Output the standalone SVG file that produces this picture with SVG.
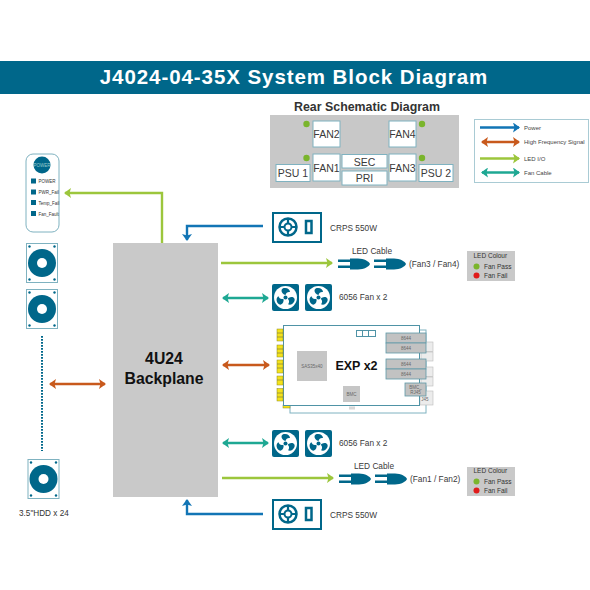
<svg xmlns="http://www.w3.org/2000/svg" xmlns:xlink="http://www.w3.org/1999/xlink" width="590" height="590" viewBox="0 0 590 590">
<style>
text{font-family:"Liberation Sans",Arial,sans-serif;fill:#333}
.box{fill:#fff;stroke:#7fb2c0;stroke-width:1}
.lb{font-size:10.500px;text-anchor:middle;fill:#3a3a3a}
.leg{font-size:6px;fill:#444}
.sm{font-size:8.300px;fill:#3a3a3a}
.ci{font-size:6.500px;fill:#333}
.conn{fill:none;stroke-width:2.400}
.t{fill:#00678a}
.chip{fill:#c6c6c6}
.ct{font-size:4.500px;text-anchor:middle;fill:#666}
.port{fill:#c2c2c2;stroke:#5f9aa8;stroke-width:.8}
.ghost{fill:#ececec;stroke:#bbb;stroke-width:.6}
.yel{fill:#f4e21a;stroke:#8d8a20;stroke-width:.5}
</style>
<defs>
<marker id="aB" markerUnits="userSpaceOnUse" markerWidth="8" markerHeight="10" refX="6" refY="5" orient="auto-start-reverse"><path d="M0 0L7 5L0 10L1.500 5Z" fill="#1275b5"/></marker>
<marker id="aO" markerUnits="userSpaceOnUse" markerWidth="8" markerHeight="10" refX="6" refY="5" orient="auto-start-reverse"><path d="M0 0L7 5L0 10L1.500 5Z" fill="#c8591c"/></marker>
<marker id="aG" markerUnits="userSpaceOnUse" markerWidth="8" markerHeight="10" refX="6" refY="5" orient="auto-start-reverse"><path d="M0 0L7 5L0 10L1.500 5Z" fill="#9cc63c"/></marker>
<marker id="aT" markerUnits="userSpaceOnUse" markerWidth="8" markerHeight="10" refX="6" refY="5" orient="auto-start-reverse"><path d="M0 0L7 5L0 10L1.500 5Z" fill="#1ea893"/></marker>
<g id="hdd">
<rect x=".5" y=".5" width="31" height="39" fill="#fff" stroke="#7fb2c0"/>
<circle cx="3.500" cy="3.500" r="1.200" class="t"/><circle cx="28.500" cy="3.500" r="1.200" class="t"/><circle cx="3.500" cy="36.500" r="1.200" class="t"/><circle cx="28.500" cy="36.500" r="1.200" class="t"/>
<circle cx="16" cy="20" r="14" class="t"/><circle cx="16" cy="20" r="5" fill="#fff"/>
</g>
<g id="fan">
<rect width="27" height="27" rx="2" class="t"/>
<circle cx="13.500" cy="13.500" r="11.500" fill="#fff"/>
<circle cx="13.500" cy="13.500" r="2" class="t"/>
<path id="bl" d="M12 10.500C8.500 8 9 4.500 12 4C15.500 3.500 18 5.500 18 8C16 7.500 14 8.500 13.500 11Z" class="t"/>
<use xlink:href="#bl" href="#bl" transform="rotate(120 13.500 13.500)"/>
<use xlink:href="#bl" href="#bl" transform="rotate(240 13.500 13.500)"/>
</g>
<g id="psu">
<rect x="1" y="1" width="48" height="29" fill="#fff" stroke="#00678a" stroke-width="2"/>
<circle cx="16" cy="15" r="8.500" fill="none" stroke="#00678a" stroke-width="2.500"/>
<circle cx="16" cy="15" r="3.500" fill="none" stroke="#00678a" stroke-width="2"/>
<path d="M8 15H12.500M19.500 15H24M16 7V11.500M16 18.500V23" stroke="#00678a" stroke-width="2.200"/>
<rect x="34" y="9" width="5.500" height="12" fill="#fff" stroke="#00678a" stroke-width="2.500"/>
</g>
<g id="plug">
<rect x="0" y="-4.500" width="14" height="2.500" class="t"/>
<rect x="0" y="1.500" width="14" height="2.500" class="t"/>
<path d="M12 -5.500H20C26 -5.500 31 -2.500 32 0C31 2.500 26 5.500 20 5.500H12Z" class="t"/>
</g>
</defs>
<rect width="590" height="590" fill="#fff"/>

<g id="title">
<rect x="0" y="61" width="590" height="33" fill="#00678a"/>
<text x="294" y="84" text-anchor="middle" font-size="20.500" font-weight="700" letter-spacing=".93" style="fill:#fff">J4024-04-35X System Block Diagram</text>
</g>

<g id="rear-schematic">
<text x="367" y="111" text-anchor="middle" font-size="12.400" font-weight="700">Rear Schematic Diagram</text>
<rect x="270" y="115" width="189" height="73" fill="#c8c8c8"/>
<circle cx="306.500" cy="124" r="3.200" fill="#7ab52c"/><circle cx="422" cy="124" r="3.200" fill="#7ab52c"/>
<circle cx="306.500" cy="158" r="3.200" fill="#7ab52c"/><circle cx="422" cy="158" r="3.200" fill="#7ab52c"/>
<g id="fan2"><rect x="313" y="121" width="27" height="26" class="box"/><text x="326.500" y="138" class="lb">FAN2</text></g>
<g id="fan4"><rect x="389" y="121" width="27" height="26" class="box"/><text x="402.500" y="138" class="lb">FAN4</text></g>
<g id="fan1"><rect x="313" y="154" width="27" height="27" class="box"/><text x="326.500" y="172" class="lb">FAN1</text></g>
<g id="fan3"><rect x="389" y="154" width="27" height="27" class="box"/><text x="402.500" y="172" class="lb">FAN3</text></g>
<g id="sec"><rect x="342" y="154.500" width="45" height="13.500" class="box"/><text x="364.500" y="165.500" class="lb">SEC</text></g>
<g id="pri"><rect x="342" y="171" width="45" height="14" class="box"/><text x="364.500" y="182" class="lb">PRI</text></g>
<g id="psu1"><rect x="276" y="164.500" width="34" height="17" class="box"/><text x="293" y="177" class="lb">PSU 1</text></g>
<g id="psu2"><rect x="419" y="164.500" width="34" height="17" class="box"/><text x="436" y="177" class="lb">PSU 2</text></g>
</g>

<g id="legend">
<rect x="474.500" y="119.500" width="114" height="63" fill="#fff" stroke="#a9cbd4"/>
<text x="524" y="130" class="leg">Power</text>
<text x="524" y="144" class="leg">High Frequency Signal</text>
<text x="524" y="160.500" class="leg">LED I/O</text>
<text x="524" y="174.500" class="leg">Fan Cable</text>
</g>

<g id="front-panel">
<rect x="26" y="154" width="33" height="78" rx="7" fill="#fff" stroke="#7fb2c0"/>
<circle cx="42" cy="165" r="8.500" class="t"/>
<text x="42" y="167" font-size="4.500" text-anchor="middle" style="fill:#9cc">POWER</text>
<rect x="31" y="178.500" width="5" height="5" class="t"/><text x="38.500" y="183" font-size="4.500">POWER</text>
<rect x="31" y="189.500" width="5" height="5" class="t"/><text x="38.500" y="194" font-size="4.500">PWR_Fail</text>
<rect x="31" y="200" width="5" height="5" class="t"/><text x="38.500" y="204.500" font-size="4.500">Temp_Fail</text>
<rect x="31" y="211" width="5" height="5" class="t"/><text x="38.500" y="215.500" font-size="4.500">Fan_Fault</text>
</g>

<g id="hdds">
<use xlink:href="#hdd" href="#hdd" x="26" y="243"/>
<use xlink:href="#hdd" href="#hdd" x="26" y="289"/>
<line x1="42" y1="336" x2="42" y2="451" stroke="#00678a" stroke-width="2" stroke-dasharray="1.800 1.200"/>
<use xlink:href="#hdd" href="#hdd" x="27.500" y="459"/>
<text x="19" y="516" font-size="8.200">3.5"HDD x 24</text>
</g>

<g id="backplane">
<rect x="113" y="243" width="105" height="254" fill="#c9c9c9"/>
<text x="164" y="364" text-anchor="middle" font-size="15.800" font-weight="700" style="fill:#111">4U24</text>
<text x="164" y="384" text-anchor="middle" font-size="15.800" font-weight="700" style="fill:#111">Backplane</text>
</g>

<g id="psu-top"><use xlink:href="#psu" href="#psu" x="272" y="212"/><text x="330" y="231" class="sm">CRPS 550W</text></g>
<g id="psu-bottom"><use xlink:href="#psu" href="#psu" x="272" y="499"/><text x="330" y="518" class="sm">CRPS 550W</text></g>

<g id="led-cable-top">
<text x="372" y="254" text-anchor="middle" class="sm">LED Cable</text>
<use xlink:href="#plug" href="#plug" x="338" y="264"/><use xlink:href="#plug" href="#plug" x="374" y="264"/>
<text x="409" y="267" class="sm">(Fan3 / Fan4)</text>
</g>
<g id="led-cable-bottom">
<text x="374" y="469" text-anchor="middle" class="sm">LED Cable</text>
<use xlink:href="#plug" href="#plug" x="339" y="479"/><use xlink:href="#plug" href="#plug" x="375" y="479"/>
<text x="410" y="482" class="sm">(Fan1 / Fan2)</text>
</g>

<g id="led-colour-top">
<rect x="467" y="251" width="48" height="30" fill="#c9c9c9"/>
<text x="473.500" y="258" class="ci">LED Colour</text>
<circle cx="476.500" cy="266.500" r="3" fill="#7ab52c"/><text x="484" y="268.500" class="ci">Fan Pass</text>
<circle cx="476.500" cy="275.500" r="3" fill="#e01b1b"/><text x="484" y="278" class="ci">Fan Fail</text>
</g>
<g id="led-colour-bottom">
<rect x="467" y="467" width="48" height="29" fill="#c9c9c9"/>
<text x="473.500" y="473" class="ci">LED Colour</text>
<circle cx="476.500" cy="481.500" r="3" fill="#7ab52c"/><text x="484" y="483.500" class="ci">Fan Pass</text>
<circle cx="476.500" cy="490.500" r="3" fill="#e01b1b"/><text x="484" y="493" class="ci">Fan Fail</text>
</g>

<g id="fans-top"><use xlink:href="#fan" href="#fan" x="272" y="284"/><use xlink:href="#fan" href="#fan" x="305" y="284"/><text x="339" y="300" class="sm">6056 Fan x 2</text></g>
<g id="fans-bottom"><use xlink:href="#fan" href="#fan" x="272" y="430"/><use xlink:href="#fan" href="#fan" x="305" y="430"/><text x="339" y="446" class="sm">6056 Fan x 2</text></g>

<g id="exp">
<rect x="290" y="330" width="136" height="83" fill="#fff" stroke="#7fb2c0"/>
<rect x="421" y="342" width="12" height="9.500" class="ghost"/><rect x="421" y="352" width="12" height="9" class="ghost"/>
<rect x="421" y="367" width="12" height="9.500" class="ghost"/><rect x="421" y="377" width="12" height="9" class="ghost"/>
<rect x="420" y="391" width="13" height="14" class="ghost"/><text x="425" y="401" class="ct">J45</text>
<rect x="283" y="405" width="7" height="3" class="yel"/>
<rect x="349" y="406.500" width="6" height="3" fill="#d8d8d8"/>
<rect x="283.500" y="325.500" width="136" height="80" fill="#fff" stroke="#4f93a6" stroke-width="1"/>
<g>
<rect x="277" y="329" width="6" height="12" class="yel"/><line x1="277" y1="333" x2="283" y2="333" stroke="#555" stroke-width=".5"/><line x1="277" y1="337" x2="283" y2="337" stroke="#555" stroke-width=".5"/>
<rect x="277" y="345" width="6" height="12" class="yel"/><line x1="277" y1="349" x2="283" y2="349" stroke="#555" stroke-width=".5"/><line x1="277" y1="353" x2="283" y2="353" stroke="#555" stroke-width=".5"/>
<rect x="277" y="360" width="6" height="13" class="yel"/><line x1="277" y1="364" x2="283" y2="364" stroke="#555" stroke-width=".5"/><line x1="277" y1="368" x2="283" y2="368" stroke="#555" stroke-width=".5"/>
<rect x="277" y="376" width="6" height="9" class="yel"/><line x1="277" y1="380" x2="283" y2="380" stroke="#555" stroke-width=".5"/>
<rect x="277" y="388.500" width="6" height="12.500" class="yel"/><line x1="277" y1="393" x2="283" y2="393" stroke="#555" stroke-width=".5"/><line x1="277" y1="397" x2="283" y2="397" stroke="#555" stroke-width=".5"/>
</g>
<rect x="356.500" y="330.500" width="6" height="6" fill="#fff" stroke="#4f93a6"/><rect x="362.500" y="330.500" width="6" height="6" fill="#fff" stroke="#4f93a6"/><rect x="368.500" y="330.500" width="7" height="6" fill="#fff" stroke="#4f93a6"/>
<rect x="297" y="351" width="30" height="30" class="chip"/><text x="312" y="367.500" class="ct">SAS35x40</text>
<rect x="343" y="386" width="17" height="16" class="chip"/><text x="351.500" y="395.500" class="ct">BMC</text>
<text x="356.500" y="370" font-size="12.500" font-weight="700" text-anchor="middle" style="fill:#111">EXP x2</text>
<rect x="386" y="333" width="40" height="10" class="port"/><text x="406" y="340" class="ct">8644</text>
<rect x="386" y="343" width="40" height="10" class="port"/><text x="406" y="350" class="ct">8644</text>
<rect x="386" y="359" width="40" height="10" class="port"/><text x="406" y="365.500" class="ct">8644</text>
<rect x="386" y="369" width="40" height="10" class="port"/><text x="406" y="376" class="ct">8644</text>
<rect x="405" y="383" width="21" height="13" class="port"/><text x="415.500" y="388.500" class="ct">BMC_</text><text x="415.500" y="394" class="ct">RJ45</text>
</g>

<g id="connectors">
<path class="conn" d="M162 243V193H65" stroke="#9cc63c" marker-end="url(#aG)"/>
<path class="conn" d="M263 226H187V240" stroke="#1275b5" marker-end="url(#aB)"/>
<path class="conn" d="M263 514H187V500" stroke="#1275b5" marker-end="url(#aB)"/>
<path class="conn" d="M50 384H105" stroke="#c8591c" marker-start="url(#aO)" marker-end="url(#aO)"/>
<path class="conn" d="M221 263H332" stroke="#9cc63c" marker-end="url(#aG)"/>
<path class="conn" d="M223 298H268" stroke="#1ea893" marker-start="url(#aT)" marker-end="url(#aT)"/>
<path class="conn" d="M223 365H269" stroke="#c8591c" marker-start="url(#aO)" marker-end="url(#aO)"/>
<path class="conn" d="M223 443H268" stroke="#1ea893" marker-start="url(#aT)" marker-end="url(#aT)"/>
<path class="conn" d="M222 478H333" stroke="#9cc63c" marker-end="url(#aG)"/>
<path class="conn" d="M480 127.500H519" stroke="#1275b5" marker-end="url(#aB)"/>
<path class="conn" d="M482 142H519" stroke="#c8591c" marker-start="url(#aO)" marker-end="url(#aO)"/>
<path class="conn" d="M480 158.500H519" stroke="#9cc63c" marker-end="url(#aG)"/>
<path class="conn" d="M482 172.500H519" stroke="#1ea893" marker-start="url(#aT)" marker-end="url(#aT)"/>
</g>
</svg>
